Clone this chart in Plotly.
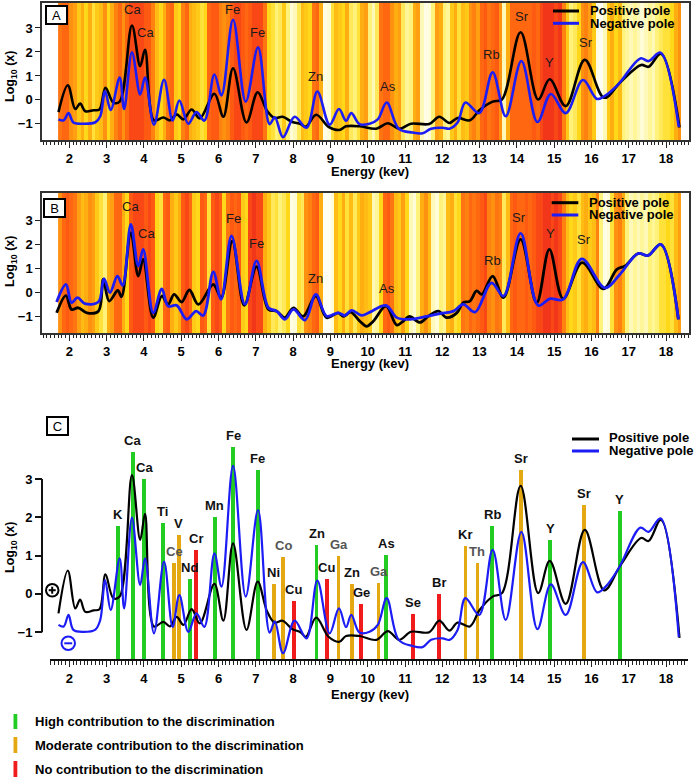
import plotly.graph_objects as go

W, H = 694, 778

# ---------------- data: panels A and C (same spectra) ----------------
pos_x = [1.71, 1.96, 2.16, 2.29, 2.43, 2.65, 2.81, 2.97, 3.18, 3.35, 3.68, 3.90, 4.03, 4.27, 4.52, 4.70,
         4.88, 5.06, 5.28, 5.50, 5.89, 6.13, 6.39, 6.75, 7.05, 7.30, 7.50, 7.72, 7.98, 8.20, 8.34, 8.62,
         8.95, 9.24, 9.42, 9.78, 10.23, 10.54, 10.85, 11.16, 11.65, 11.92, 12.19, 12.41, 12.74, 13.00,
         13.35, 13.60, 14.10, 14.57, 14.88, 15.31, 15.82, 16.34, 16.78, 17.33, 17.53, 17.86, 18.36]
pos_y = [-0.51, 0.61, -0.38, -0.15, -0.47, -0.43, -0.40, 0.51, -0.11, -0.07, 3.10, 1.41, 2.09, -0.85, -0.73, -0.85,
         -0.60, -0.81, -0.40, -0.77, 0.26, -0.70, 1.32, -0.94, 0.32, -0.45, -0.75, -0.70, -0.92, -1.00, -1.12, -0.62,
         -1.12, -1.25, -1.10, -1.10, -1.20, -0.97, -1.20, -0.99, -1.00, -0.70, -0.96, -0.75, -0.85, -0.42,
         -0.07, 0.02, 2.82, 0.02, 0.86, -0.26, 1.67, 0.09, 0.75, 1.46, 1.38, 1.93, -1.15]

neg_x = [1.71, 1.85, 1.98, 2.11, 2.38, 2.70, 2.83, 2.96, 3.11, 3.35, 3.47, 3.68, 3.90, 4.03, 4.27, 4.54,
         4.77, 4.95, 5.19, 5.41, 5.62, 5.89, 6.08, 6.39, 6.73, 7.06, 7.37, 7.51, 7.73, 8.04, 8.36, 8.65,
         8.98, 9.23, 9.42, 9.56, 9.78, 10.05, 10.27, 10.51, 10.83, 11.20, 11.47, 11.70, 12.01, 12.19,
         12.41, 12.62, 12.99, 13.35, 13.70, 14.12, 14.55, 14.91, 15.31, 15.77, 16.15, 16.38, 16.73,
         17.31, 17.53, 17.85, 18.34]
neg_y = [-0.81, -0.85, -0.55, -0.94, -0.99, -0.93, -0.68, 0.36, -0.42, 0.93, -0.38, 1.99, 0.23, 0.93, -1.03, 0.84,
         -0.86, -0.03, -0.99, -0.51, -0.86, 1.06, 0.19, 3.34, -0.07, 2.19, -1.01, -0.72, -1.55, -0.70, -1.16, 0.35,
         -1.03, -0.38, -0.87, -0.55, -1.01, -0.99, -0.81, -0.11, -1.20, -1.36, -1.39, -1.20, -1.16, -1.20,
         -0.94, -0.11, -0.55, 1.15, -0.68, 1.62, -0.92, 0.25, -0.55, 0.83, 0.04, 0.19, 0.67,
         1.73, 1.62, 1.97, -1.13]

# ---------------- data: panel B ----------------
posB_x = [1.66, 1.91, 2.06, 2.24, 2.47, 2.78, 2.91, 3.07, 3.30, 3.40, 3.65, 3.85, 3.98, 4.25, 4.48, 4.65,
          4.81, 5.01, 5.22, 5.46, 5.86, 6.07, 6.37, 6.69, 7.02, 7.34, 7.56, 7.78, 8.01, 8.27, 8.61, 8.90,
          9.21, 9.35, 9.54, 9.79, 9.97, 10.15, 10.49, 10.78, 10.95, 11.12, 11.40, 11.62, 11.89, 12.12,
          12.39, 12.56, 12.74, 12.92, 13.06, 13.35, 13.64, 14.10, 14.53, 14.87, 15.24, 15.75, 16.32,
          16.68, 16.90, 17.25, 17.52, 17.86, 18.33]
posB_y = [-0.85, -0.13, -0.71, -0.64, -0.85, -0.78, 0.54, -0.36, 0.08, -0.18, 2.49, 0.68, 1.38, -1.05, -0.15, -0.50,
          -0.08, -0.40, 0.10, -0.50, 0.33, -0.22, 2.14, -0.54, 1.07, -0.71, -0.78, -1.05, -0.64, -1.00, -0.15, -1.05,
          -0.85, -1.00, -0.82, -1.20, -1.41, -1.20, -0.57, -1.36, -1.20, -1.00, -1.25, -1.00, -0.78, -1.05,
          -0.85, -0.43, -0.36, 0.06, -0.08, 0.68, -0.22, 2.21, -0.43, 1.79, -0.26, 1.24, 0.15,
          0.96, 1.10, 1.62, 1.54, 2.00, -1.12]

negB_x = [1.66, 1.91, 2.06, 2.22, 2.42, 2.78, 2.93, 3.09, 3.29, 3.43, 3.65, 3.85, 3.98, 4.25, 4.48, 4.65,
          4.88, 5.15, 5.40, 5.59, 5.86, 6.07, 6.35, 6.71, 7.02, 7.34, 7.56, 7.78, 8.01, 8.32, 8.61, 8.90,
          9.21, 9.39, 9.57, 9.84, 10.06, 10.49, 10.78, 11.13, 11.58, 11.94, 12.30, 12.56, 12.88, 13.32,
          13.64, 14.10, 14.57, 14.89, 15.24, 15.74, 16.36, 16.76, 17.25, 17.52, 17.86, 18.33]
negB_y = [-0.40, 0.33, -0.43, -0.22, -0.47, -0.40, 0.57, -0.01, 0.68, 0.29, 2.83, 1.10, 1.79, -0.85, 0.15, -0.57,
          -0.54, -1.12, -0.78, -0.96, 0.85, -0.29, 2.35, -0.50, 1.31, -0.64, -0.78, -1.12, -0.71, -1.15, -0.08, -0.99,
          -0.85, -0.96, -0.75, -0.96, -0.82, -0.54, -1.05, -1.12, -1.00, -0.88, -0.78, -0.50, -0.82, 0.40,
          -0.15, 2.46, -0.54, -0.26, -0.29, 1.40, 0.19, 0.75, 1.62, 1.54, 2.00, -1.12]

# ---------------- background stripes (0 = white ... 1 = red), 0.1 keV bins from 1.7 keV ----------------
heat_start, heat_step = 1.7, 0.1
heatA = [0.80, 0.85, 0.85, 0.70, 0.65, 0.50, 0.60, 0.45, 0.60, 0.40, 0.50, 0.55, 0.70, 0.45, 0.60, 0.75,
         0.85, 0.70, 0.85, 0.95, 0.95, 0.95, 0.95, 0.90, 0.90, 0.75, 0.55, 0.45, 0.60, 0.80, 0.85, 0.50,
         0.45, 0.75, 0.85, 0.60, 0.55, 0.50, 0.40, 0.45, 0.85, 0.90, 0.90, 0.75, 0.70, 0.75, 0.90, 0.95,
         0.95, 0.90, 0.85, 0.90, 0.95, 0.95, 0.95, 0.80, 0.45, 0.40, 0.30, 0.35, 0.50, 0.30, 0.15, 0.20,
         0.35, 0.55, 0.50, 0.45, 0.80, 0.85, 0.60, 0.10, 0.15, 0.40, 0.55, 0.50, 0.45, 0.60, 0.35, 0.30,
         0.40, 0.60, 0.65, 0.30, 0.20, 0.35, 0.80, 0.85, 0.85, 0.70, 0.60, 0.65, 0.35, 0.25, 0.30, 0.60,
         0.65, 0.20, 0.10, 0.15, 0.30, 0.65, 0.60, 0.30, 0.25, 0.50, 0.60, 0.40, 0.55, 0.50, 0.70, 0.75,
         0.65, 0.85, 0.90, 0.80, 0.85, 0.90, 0.70, 0.20, 0.60, 0.85, 0.85, 0.85, 0.85, 0.85, 0.85, 0.90,
         0.85, 0.95, 1.00, 1.00, 1.00, 0.95, 1.00, 0.75, 0.50, 0.30, 0.35, 0.45, 0.70, 0.75, 0.65, 0.50,
         0.10, 0.05, 0.20, 0.50, 0.60, 0.45, 0.55, 0.30, 0.25, 0.20, 0.25, 0.20, 0.15, 0.20, 0.25, 0.20,
         0.30, 0.35, 0.40, 0.40, 0.45, 0.60, 0.70, 0.00]
heatB = [0.70, 0.85, 0.90, 0.85, 0.80, 0.65, 0.55, 0.60, 0.70, 0.65, 0.50, 0.40, 0.30, 0.60, 0.65, 0.85,
         0.85, 0.60, 0.45, 0.90, 0.95, 0.95, 0.95, 0.90, 0.95, 0.90, 0.45, 0.40, 0.85, 0.90, 0.60, 0.50,
         0.60, 0.90, 0.95, 0.85, 0.50, 0.45, 0.90, 0.85, 0.40, 0.90, 0.95, 0.90, 0.45, 0.80, 0.90, 0.85,
         0.90, 0.50, 0.45, 0.95, 1.00, 0.95, 0.95, 0.60, 0.50, 0.35, 0.40, 0.30, 0.35, 0.45, 0.10, 0.15,
         0.40, 0.35, 0.70, 0.75, 0.85, 0.90, 0.60, 0.05, 0.05, 0.15, 0.55, 0.45, 0.60, 0.40, 0.55, 0.35,
         0.50, 0.60, 0.55, 0.50, 0.20, 0.25, 0.45, 0.85, 0.90, 0.80, 0.55, 0.50, 0.65, 0.45, 0.20, 0.15,
         0.30, 0.60, 0.70, 0.55, 0.20, 0.15, 0.30, 0.25, 0.55, 0.60, 0.40, 0.45, 0.80, 0.75, 0.85, 0.80,
         0.85, 0.90, 0.95, 0.75, 0.70, 0.80, 0.75, 0.35, 0.55, 0.85, 0.90, 0.85, 0.85, 0.90, 0.85, 0.90,
         0.95, 0.95, 1.00, 1.00, 0.95, 1.00, 0.95, 0.75, 0.55, 0.45, 0.50, 0.40, 0.55, 0.60, 0.50, 0.55,
         0.75, 0.30, 0.10, 0.15, 0.40, 0.70, 0.75, 0.60, 0.30, 0.20, 0.25, 0.20, 0.25, 0.20, 0.30, 0.25,
         0.30, 0.40, 0.40, 0.45, 0.40, 0.55, 0.65, 0.00]

# ---------------- element labels in panels A and B ----------------
labA_text = ["Ca", "Ca", "Fe", "Fe", "Zn", "As", "Rb", "Sr", "Y", "Sr"]
labA_x = [3.70, 4.05, 6.37, 7.05, 8.61, 10.54, 13.32, 14.13, 14.87, 15.85]
labA_y = [3.76, 2.83, 3.76, 2.83, 0.98, 0.54, 1.89, 3.48, 1.54, 2.38]
labB_text = ["Ca", "Ca", "Fe", "Fe", "Zn", "As", "Rb", "Sr", "Y", "Sr"]
labB_x = [3.65, 4.06, 6.40, 7.02, 8.59, 10.53, 13.35, 14.06, 14.89, 15.80]
labB_y = [3.56, 2.47, 3.06, 2.03, 0.60, 0.17, 1.33, 3.14, 2.47, 2.20]

# ---------------- panel C: element contribution bars ----------------
bar_el = ["K", "Ca", "Ca", "Ti", "Ce", "V", "Nd", "Cr", "Mn", "Fe", "Fe", "Ni", "Co", "Cu", "Zn", "Cu",
          "Ga", "Zn", "Ge", "Ga", "As", "Se", "Br", "Kr", "Th", "Rb", "Sr", "Y", "Sr", "Y"]
bar_x = [3.31, 3.70, 4.01, 4.51, 4.81, 4.94, 5.23, 5.40, 5.90, 6.39, 7.05, 7.48, 7.73, 8.02, 8.63, 8.90,
         9.22, 9.57, 9.83, 10.29, 10.50, 11.22, 11.92, 12.62, 12.94, 13.34, 14.11, 14.89, 15.80, 16.76]
bar_v = [1.77, 3.70, 3.00, 1.85, 0.80, 1.54, 0.39, 1.14, 2.00, 3.84, 3.23, 0.26, 0.97, -0.18, 1.27, 0.39,
         0.99, 0.26, -0.26, 0.29, 1.01, -0.53, 0.00, 1.25, 0.81, 1.77, 3.23, 1.40, 2.32, 2.16]
bar_cls = ["H", "H", "H", "H", "M", "M", "H", "N", "H", "H", "H", "M", "M", "N", "H", "N",
           "M", "M", "N", "M", "H", "N", "N", "M", "M", "H", "M", "H", "M", "H"]

legend_names = ["Positive pole", "Negative pole"]
class_names = {"H": "High contribution to the discrimination",
               "M": "Moderate contribution to the discrimination",
               "N": "No contribution to the discrimination"}

# ---------------- styles ----------------
BLACK = "#000000"
BLUE = "#1c1cf5"
CLS_COLOR = {"H": "#22cc22", "M": "#e3a812", "N": "#f01c1c"}
FONT = "Liberation Sans, Arial, sans-serif"
heat_scale = [[0.0, "#ffffff"], [0.15, "#fffcd8"], [0.3, "#fff27a"], [0.45, "#ffd81a"],
              [0.6, "#ffae12"], [0.75, "#ff8210"], [0.9, "#ff5a12"], [1.0, "#f2361a"]]
gray_labels = {4, 12, 16, 19, 24}


def px(x):
    return x / W


def py(y):
    return 1 - y / H


fig = go.Figure()

for heat, xa, ya in [(heatA, "x", "y"), (heatB, "x2", "y2")]:
    fig.add_trace(go.Heatmap(z=[heat, heat], x0=heat_start + heat_step / 2, dx=heat_step, y=[-3, 6],
                             colorscale=heat_scale, zmin=0, zmax=1, showscale=False, zsmooth=False,
                             hoverinfo="skip", xaxis=xa, yaxis=ya))

fig.add_trace(go.Scatter(x=pos_x, y=pos_y, mode="lines", line=dict(color=BLACK, width=2.6, shape="spline", smoothing=1),
                         xaxis="x", yaxis="y", showlegend=False))
fig.add_trace(go.Scatter(x=neg_x, y=neg_y, mode="lines", line=dict(color=BLUE, width=2.6, shape="spline", smoothing=1),
                         xaxis="x", yaxis="y", showlegend=False))
fig.add_trace(go.Scatter(x=posB_x, y=posB_y, mode="lines", line=dict(color=BLACK, width=2.8, shape="spline", smoothing=1),
                         xaxis="x2", yaxis="y2", showlegend=False))
fig.add_trace(go.Scatter(x=negB_x, y=negB_y, mode="lines", line=dict(color=BLUE, width=2.8, shape="spline", smoothing=1),
                         xaxis="x2", yaxis="y2", showlegend=False))

base = -1.7
fig.add_trace(go.Bar(x=bar_x, y=[v - base for v in bar_v], base=base, width=0.1,
                     marker=dict(color=[CLS_COLOR[c] for c in bar_cls], line=dict(width=0)),
                     xaxis="x3", yaxis="y3", showlegend=False, hoverinfo="skip"))
fig.add_trace(go.Scatter(x=pos_x, y=pos_y, mode="lines", line=dict(color=BLACK, width=2.2, shape="spline", smoothing=1),
                         xaxis="x3", yaxis="y3", showlegend=False))
fig.add_trace(go.Scatter(x=neg_x, y=neg_y, mode="lines", line=dict(color=BLUE, width=2.2, shape="spline", smoothing=1),
                         xaxis="x3", yaxis="y3", showlegend=False))

tickfont = dict(family=FONT, size=13, color="black", weight="bold")
xr_ab = [2 + (42 - 69.3) / 37.3, 2 + (689 - 69.3) / 37.3]
xr_c = [2 + (50 - 69.3) / 37.3, 2 + (688 - 69.3) / 37.3]

common_x = dict(dtick=1, tick0=0, ticks="outside", ticklen=6, tickwidth=1.3, tickcolor="#222",
                minor=dict(dtick=0.1, ticks="outside", ticklen=3.5, tickwidth=1, tickcolor="#222"),
                showgrid=False, zeroline=False, tickfont=tickfont)
common_yab = dict(tickvals=[-1, 0, 1, 2, 3], ticks="outside", ticklen=5, tickwidth=1.3, tickcolor="#222",
                  showgrid=False, zeroline=False, tickfont=tickfont, showline=True, mirror=True,
                  linecolor="#333", linewidth=1.5)

fig.update_layout(
    width=W, height=H, margin=dict(l=0, r=0, t=0, b=0),
    paper_bgcolor="white", plot_bgcolor="white", bargap=0,
    xaxis=dict(domain=[px(42), px(689)], range=xr_ab, anchor="y", showline=True, mirror=True,
               linecolor="#333", linewidth=1.5, **common_x),
    yaxis=dict(domain=[py(140), py(3)], range=[-1.67, 4.04], anchor="x", **common_yab),
    xaxis2=dict(domain=[px(42), px(689)], range=xr_ab, anchor="y2", showline=True, mirror=True,
                linecolor="#333", linewidth=1.5, **common_x),
    yaxis2=dict(domain=[py(333), py(193)], range=[-1.69, 4.14], anchor="x2", **common_yab),
    xaxis3=dict(domain=[px(50), px(688)], range=xr_c, anchor="y3", showline=True, linecolor="#111",
                linewidth=2, **common_x),
    yaxis3=dict(domain=[py(659), py(415)], range=[-1.70, 4.67], anchor="free", position=px(42),
                tickvals=[-1, 0, 1, 2, 3], ticks="outside", ticklen=7, tickwidth=2, tickcolor="#111",
                showgrid=False, zeroline=False, showline=False, tickfont=tickfont),
    font=dict(family=FONT),
)

shapes = []
ann = []

shapes.append(dict(type="line", xref="paper", yref="y3", x0=px(42), x1=px(42), y0=-1, y1=3,
                   line=dict(color="#111", width=2)))

for t, x, y in zip(labA_text, labA_x, labA_y):
    ann.append(dict(text=t, x=x, y=y, xref="x", yref="y", showarrow=False,
                    font=dict(family=FONT, size=13, color="#1a1a1a")))
for t, x, y in zip(labB_text, labB_x, labB_y):
    ann.append(dict(text=t, x=x, y=y, xref="x2", yref="y2", showarrow=False,
                    font=dict(family=FONT, size=13, color="#1a1a1a")))

for i, (t, x, v) in enumerate(zip(bar_el, bar_x, bar_v)):
    ann.append(dict(text=t, x=x, y=v, xref="x3", yref="y3", showarrow=False, yanchor="bottom", yshift=2,
                    font=dict(family=FONT, size=13, color="#555555" if i in gray_labels else "#111",
                              weight="bold")))

for letter, cx, cy in [("A", 56, 15), ("B", 54, 207.5), ("C", 57, 426)]:
    ann.append(dict(text=letter, x=px(cx), y=py(cy), xref="paper", yref="paper", showarrow=False,
                    xanchor="center", yanchor="middle", width=17, height=14, borderpad=1,
                    bordercolor="black", borderwidth=2, bgcolor="white",
                    font=dict(family=FONT, size=13, color="black")))

for (lx0, lx1, y1, y2, tx, ty1, ty2) in [(553, 579, 11, 23.3, 588, 10, 23),
                                         (551.7, 578.3, 202.7, 215, 586.7, 202, 214.5),
                                         (572, 599, 439, 451, 607, 437.7, 450.7)]:
    for yy, col in [(y1, BLACK), (y2, BLUE)]:
        shapes.append(dict(type="line", xref="paper", yref="paper", x0=px(lx0), x1=px(lx1), y0=py(yy), y1=py(yy),
                           line=dict(color=col, width=3)))
    for name, yy in zip(legend_names, [ty1, ty2]):
        ann.append(dict(text=name, x=px(tx), y=py(yy), xref="paper", yref="paper", showarrow=False,
                        xanchor="left", yanchor="middle",
                        font=dict(family=FONT, size=13, color="black", weight="bold")))

for cy in [77, 262, 548]:
    ann.append(dict(text="Log<sub>10</sub> (x)", x=px(11), y=py(cy), xref="paper", yref="paper", showarrow=False,
                    textangle=-90, xanchor="center", yanchor="middle",
                    font=dict(family=FONT, size=12.5, color="black", weight="bold")))
for cy in [172, 364, 694]:
    ann.append(dict(text="Energy (kev)", x=px(370), y=py(cy), xref="paper", yref="paper", showarrow=False,
                    xanchor="center", yanchor="middle",
                    font=dict(family=FONT, size=13, color="black", weight="bold")))

shapes.append(dict(type="circle", xref="paper", yref="paper", x0=px(46), x1=px(58.5), y0=py(584), y1=py(596.5),
                   line=dict(color="black", width=2)))
shapes.append(dict(type="line", xref="paper", yref="paper", x0=px(48.7), x1=px(55.7), y0=py(590.2), y1=py(590.2),
                   line=dict(color="black", width=2)))
shapes.append(dict(type="line", xref="paper", yref="paper", x0=px(52.2), x1=px(52.2), y0=py(586.7), y1=py(593.7),
                   line=dict(color="black", width=2)))
shapes.append(dict(type="circle", xref="paper", yref="paper", x0=px(61.5), x1=px(75), y0=py(636.5), y1=py(650),
                   line=dict(color=BLUE, width=2)))
shapes.append(dict(type="line", xref="paper", yref="paper", x0=px(64.3), x1=px(72.2), y0=py(643.3), y1=py(643.3),
                   line=dict(color=BLUE, width=2)))

for (key, y0, y1, ty) in [("H", 714, 729, 721), ("M", 737, 753, 745.5), ("N", 761, 777, 769.3)]:
    shapes.append(dict(type="rect", xref="paper", yref="paper", x0=px(13.5), x1=px(17.3), y0=py(y1), y1=py(y0),
                       fillcolor=CLS_COLOR[key], line=dict(width=0)))
    ann.append(dict(text=class_names[key], x=px(32.5), y=py(ty), xref="paper", yref="paper", showarrow=False,
                    xanchor="left", yanchor="middle",
                    font=dict(family=FONT, size=13, color="black", weight="bold")))

fig.update_layout(shapes=shapes, annotations=ann)
fig.write_html("out.html")
